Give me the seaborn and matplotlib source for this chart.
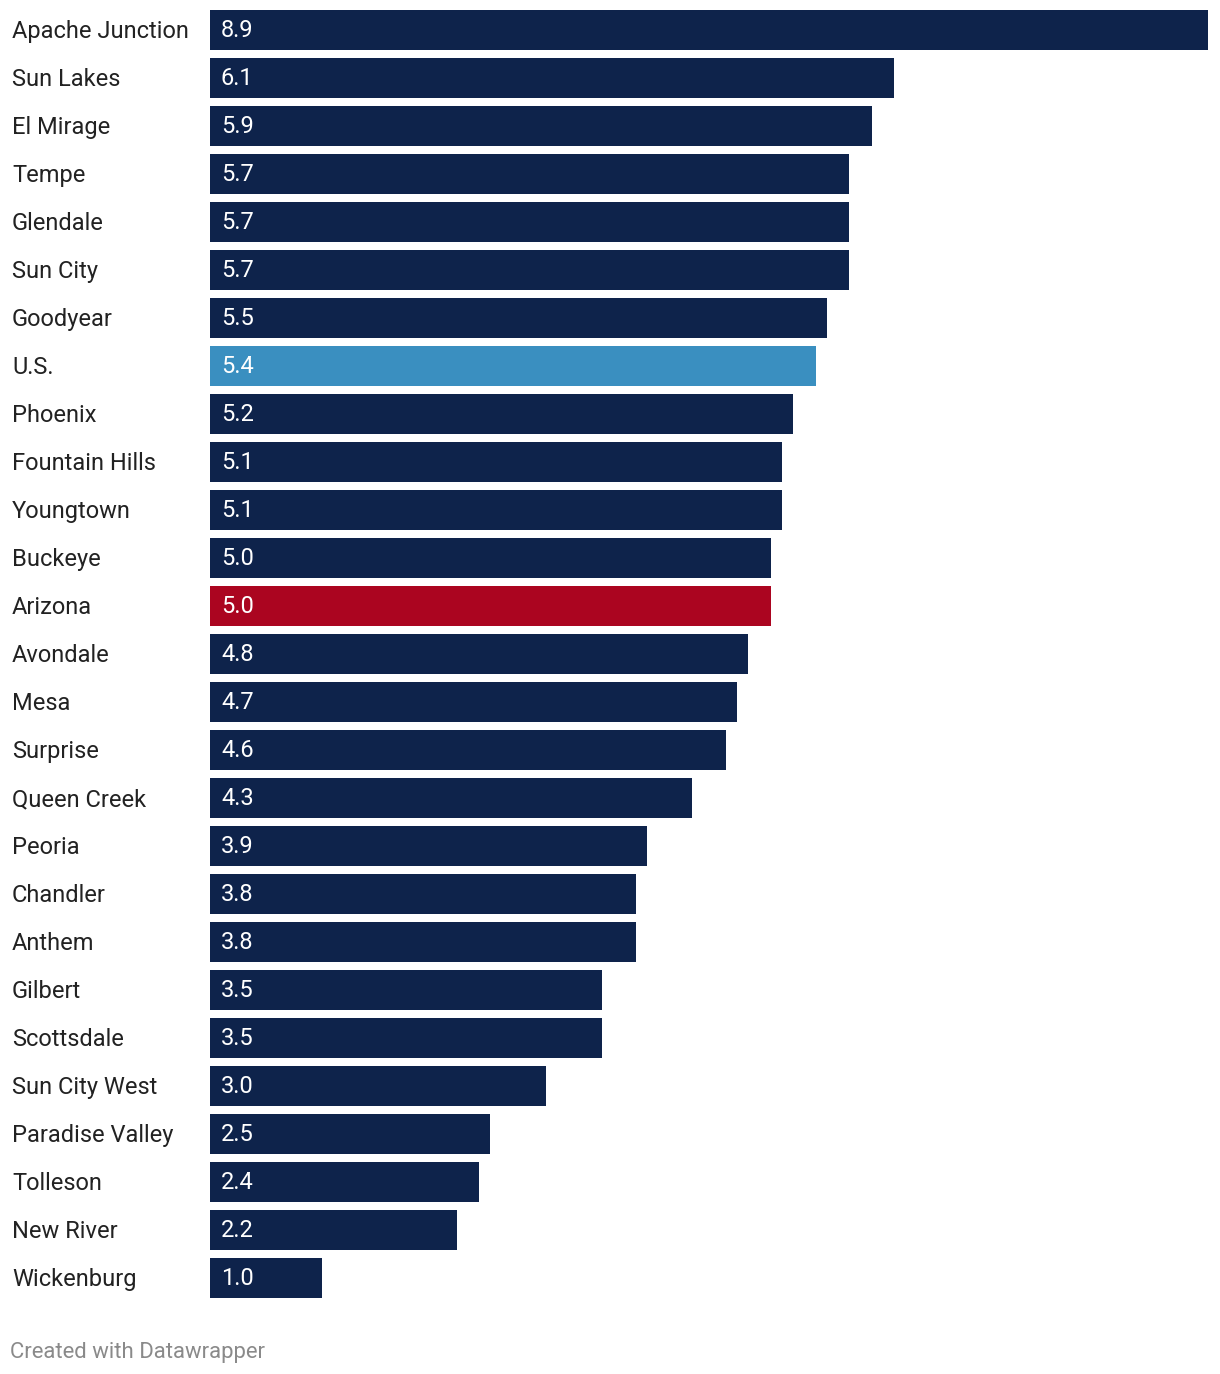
import matplotlib.pyplot as plt
import seaborn as sns
import pandas as pd

# values
cities = ['Apache Junction', 'Sun Lakes', 'El Mirage', 'Tempe', 'Glendale', 'Sun City',
          'Goodyear', 'U.S.', 'Phoenix', 'Fountain Hills', 'Youngtown', 'Buckeye',
          'Arizona', 'Avondale', 'Mesa', 'Surprise', 'Queen Creek', 'Peoria',
          'Chandler', 'Anthem', 'Gilbert', 'Scottsdale', 'Sun City West',
          'Paradise Valley', 'Tolleson', 'New River', 'Wickenburg']
values = [8.9, 6.1, 5.9, 5.7, 5.7, 5.7, 5.5, 5.4, 5.2, 5.1, 5.1, 5.0, 5.0, 4.8,
          4.7, 4.6, 4.3, 3.9, 3.8, 3.8, 3.5, 3.5, 3.0, 2.5, 2.4, 2.2, 1.0]

navy = '#0e234b'
highlight = {'U.S.': '#3a8fc0', 'Arizona': '#ab0520'}
palette = {c: highlight.get(c, navy) for c in cities}

df = pd.DataFrame({'city': cities, 'value': values})

sns.set_theme(style='white')
plt.rcParams['font.family'] = ['Roboto', 'DejaVu Sans']

W, H = 1220, 1374
fig = plt.figure(figsize=(W / 100, H / 100), dpi=100)
# axes spans bar area: x 210..1208 px, y 10..1298 px
ax = fig.add_axes([210 / W, (H - 1298) / H, 998 / W, 1288 / H])

bw = 40 / 48
sns.barplot(data=df, x='value', y='city', hue='city', palette=palette,
            order=cities, width=bw, legend=False, ax=ax, saturation=1,
            linewidth=0)

ax.set_xlim(0, 8.9)
ax.set_ylim(len(cities) - 1 + bw / 2, -bw / 2)
ax.axis('off')

# value labels inside bars, city labels on the left
for i, (c, v) in enumerate(zip(cities, values)):
    yc = 10 + 48 * i + 20
    fig.text(221 / W, 1 - (yc + 7) / H, f'{v:.1f}', color='white',
             fontsize=17, va='baseline', ha='left')
    fig.text(12 / W, 1 - (yc + 8) / H, c, color='#222222',
             fontsize=17, va='baseline', ha='left')

fig.text(10 / W, 1 - 1358 / H, 'Created with Datawrapper', color='#8a8a8a',
         fontsize=15.9, va='baseline', ha='left')

plt.savefig('out.png', dpi=100)
